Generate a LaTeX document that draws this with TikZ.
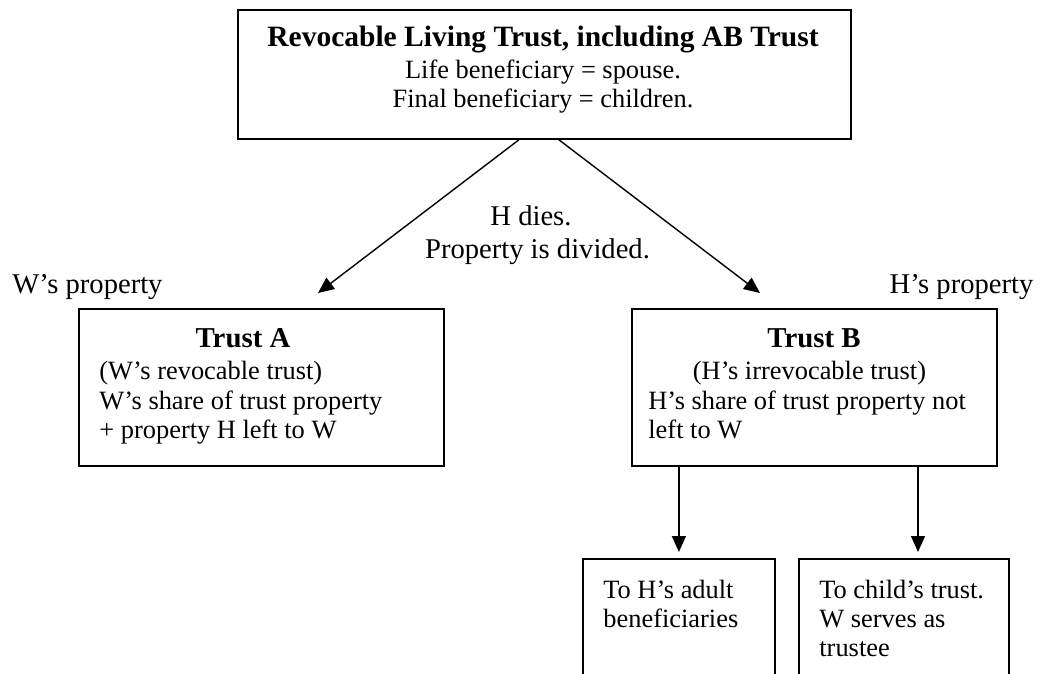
\documentclass[tikz,border=0pt]{standalone}
\usepackage{fontspec}
\setmainfont{Liberation Serif}
\usetikzlibrary{arrows.meta}

\tikzset{
  box/.style={draw, line width=0.9pt, inner sep=0pt, anchor=north west},
  body/.style={inner sep=0pt, font=\fontsize{13.2}{14.75}\selectfont},
  bodyl/.style={body, anchor=base west},
  bodyc/.style={body, anchor=base},
  side/.style={inner sep=0pt, anchor=base, font=\fontsize{14.3}{16.5}\selectfont},
  head/.style={inner sep=0pt, anchor=base, font=\fontsize{14.4}{15}\selectfont\bfseries},
  flow/.style={line width=0.7pt, -{Triangle[length=8pt,width=7pt]}},
}

\begin{document}
\begin{tikzpicture}[x=0.5pt,y=-0.5pt]

\clip (0,0) rectangle (1039,674);

\begin{scope}
% boxes
\node[box, minimum width=306.5pt, minimum height=64.5pt] (living) at (237,9) {};
\node[box, minimum width=182.5pt, minimum height=78.5pt] (trustA) at (78,308) {};
\node[box, minimum width=182.5pt, minimum height=78.5pt] (trustB) at (631,308) {};
\node[box, minimum width=96pt, minimum height=80pt] (adult) at (582,558) {};
\node[box, minimum width=105pt, minimum height=80pt] (child) at (798,558) {};

% top box
\node[head, font=\fontsize{14.75}{16}\selectfont\bfseries] (livingtitle) at (543,47) {Revocable Living Trust, including AB Trust};
\node[bodyc] (lifeben) at (543,79) {Life beneficiary = spouse.};
\node[bodyc] (finalben) at (543,108) {Final beneficiary = children.};

% split
\coordinate (tipA) at (318,293);
\coordinate (tipB) at (760,293);
\draw[flow] ([xshift=-12.75pt]living.south) -- (tipA);
\draw[flow] ([xshift=7.25pt]living.south) -- (tipB);
\node[side] (hdies) at (531,225) {H dies.};
\node[side] (divided) at (537.5,258) {Property is divided.};
\node[side] (wprop) at (87.5,293) {W's property};
\node[side] (hprop) at (961.5,293) {H's property};

% trust A
\node[head] (titleA) at (243,347) {Trust A};
\node[bodyl] (kindA) at (99,379) {(W's revocable trust)};
\node[bodyl] (shareA) at (99,409) {W's share of trust property};
\node[bodyl] (plusA) at (99,438) {+ property H left to W};

% trust B
\node[head] (titleB) at (814,347) {Trust B};
\node[bodyc] (kindB) at (809.5,379) {(H's irrevocable trust)};
\node[bodyl] (shareB) at (648,409) {H's share of trust property not};
\node[bodyl] (leftB) at (648,438) {left to W};

% from trust B
\coordinate (tochild) at (918,552);
\draw[flow] (trustB.south -| adult.north) -- ([yshift=3pt]adult.north);
\draw[flow] (trustB.south -| tochild) -- (tochild);
\node[bodyl] (adult1) at (603,598) {To H's adult};
\node[bodyl] (adult2) at (603,627) {beneficiaries};
\node[bodyl] (child1) at (819,598) {To child's trust.};
\node[bodyl] (child2) at (819,627) {W serves as};
\node[bodyl] (child3) at (819,656) {trustee};
\end{scope}

\end{tikzpicture}
\end{document}
